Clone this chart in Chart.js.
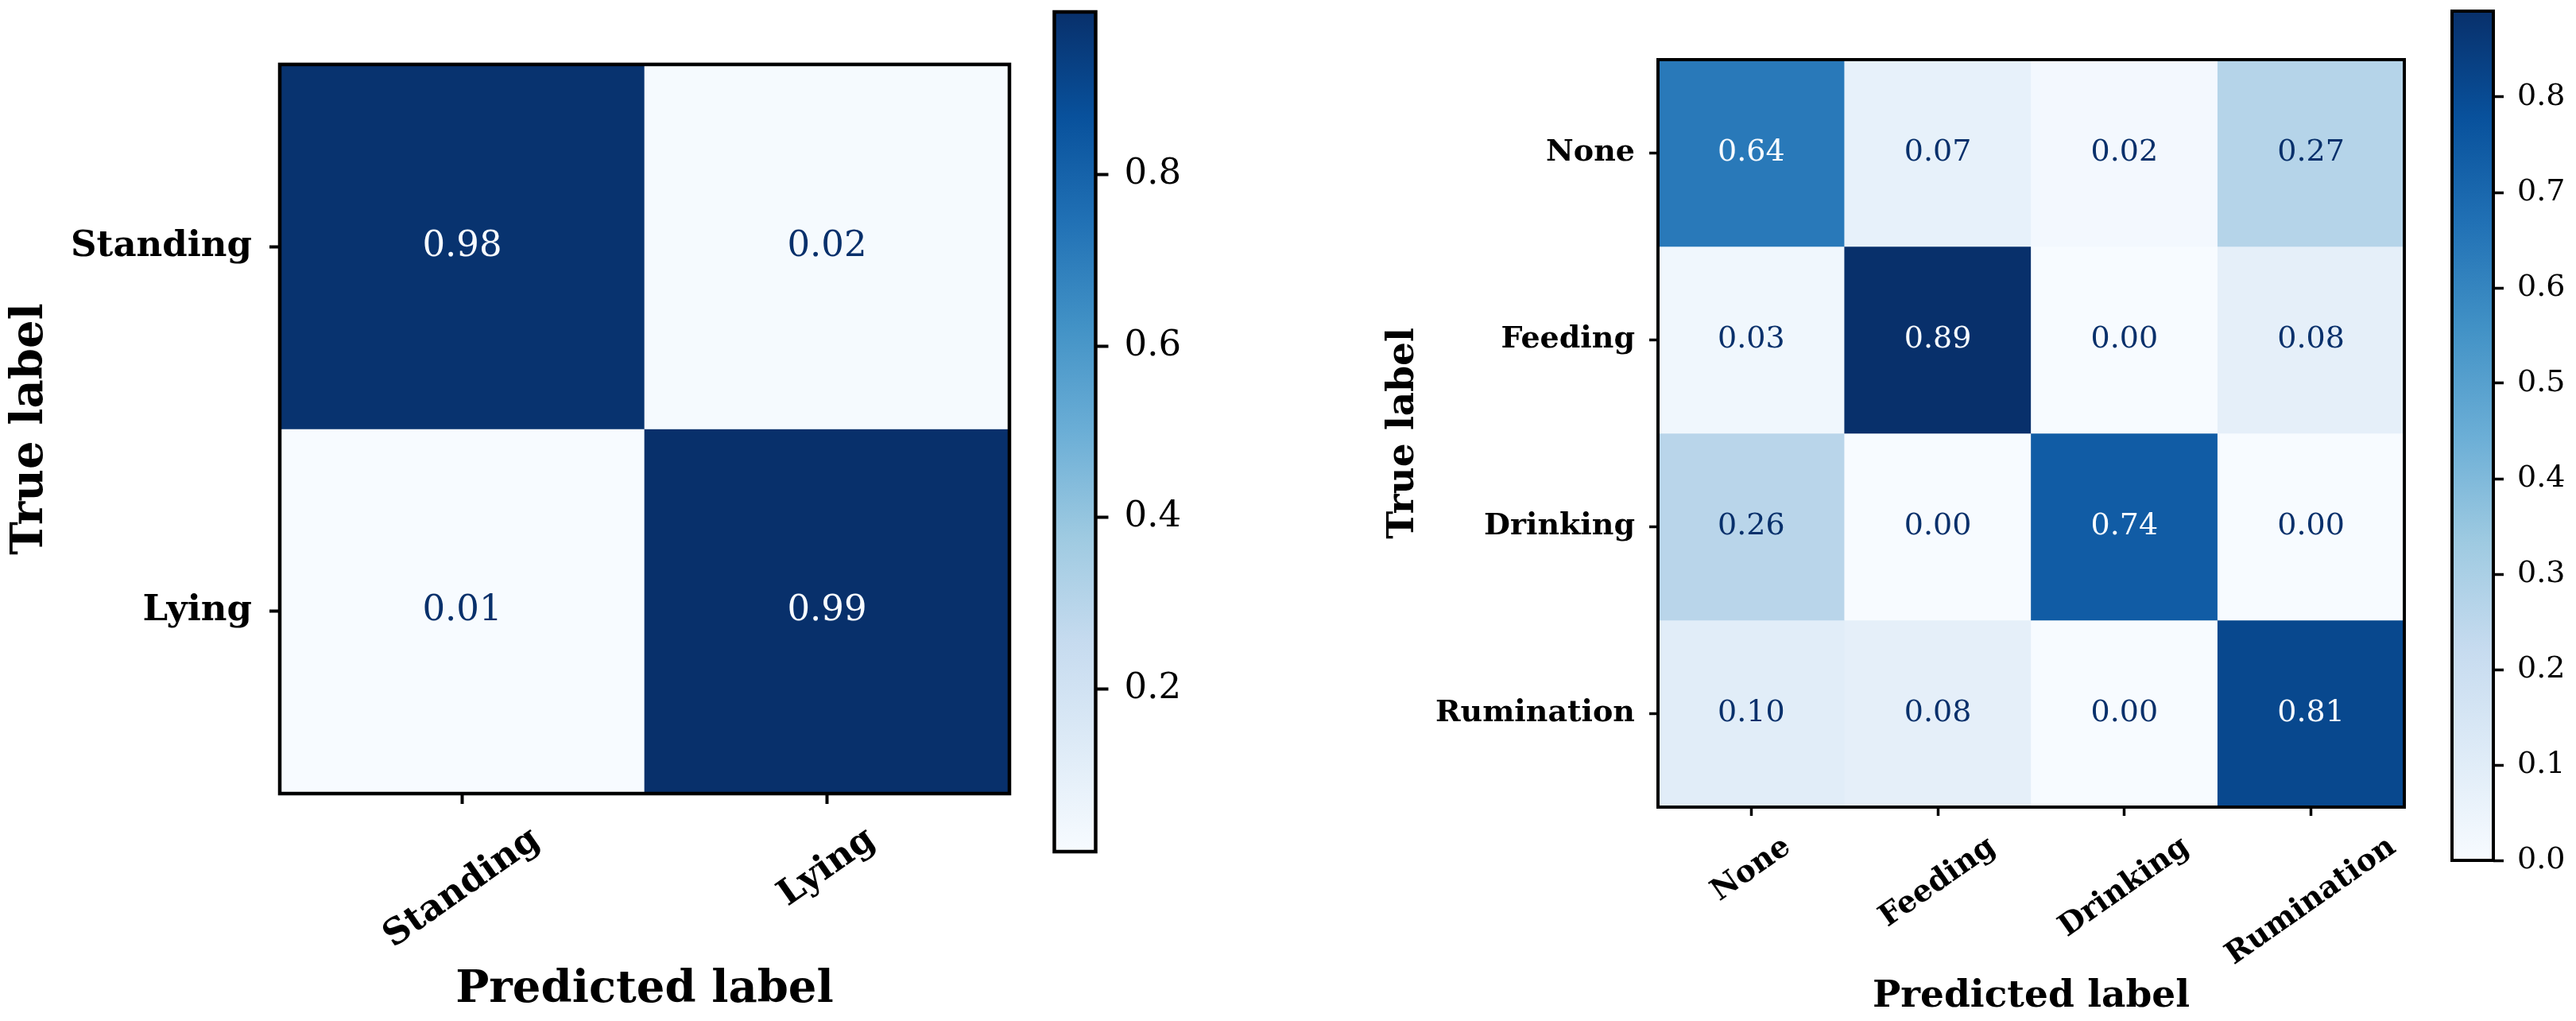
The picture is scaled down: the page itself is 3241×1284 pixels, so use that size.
<!DOCTYPE html>
<html>
<head>
<meta charset="utf-8">
<script src="https://cdn.jsdelivr.net/npm/chart.js@4.4.1/dist/chart.umd.min.js"></script>
<style>
  html, body { margin: 0; padding: 0; background: #ffffff; }
  #page { position: relative; width: 3241px; height: 1284px; overflow: hidden; background: #ffffff; }
  #page canvas { position: absolute; top: 0; }
</style>
</head>
<body>
<div id="page">
  <canvas id="heatL" width="1300" height="1284" style="left:0px;width:1300px;height:1284px"></canvas>
  <canvas id="cbarL" width="270" height="1284" style="left:1290px;width:270px;height:1284px"></canvas>
  <canvas id="heatR" width="1360" height="1284" style="left:1700px;width:1360px;height:1284px"></canvas>
  <canvas id="cbarR" width="181" height="1284" style="left:3060px;width:181px;height:1284px"></canvas>
</div>
<script>
// ---------------- data ----------------
const postureClasses = ['Standing', 'Lying'];
const postureStanding = [0.98, 0.02];
const postureLying = [0.01, 0.99];
const postureColorbarTicks = [0.2, 0.4, 0.6, 0.8];

const behaviourClasses = ['None', 'Feeding', 'Drinking', 'Rumination'];
const behaviourNone = [0.64, 0.07, 0.02, 0.27];
const behaviourFeeding = [0.03, 0.89, 0.00, 0.08];
const behaviourDrinking = [0.26, 0.00, 0.74, 0.00];
const behaviourRumination = [0.10, 0.08, 0.00, 0.81];
const behaviourColorbarTicks = [0.0, 0.1, 0.2, 0.3, 0.4, 0.5, 0.6, 0.7, 0.8];

const xAxisTitle = 'Predicted label';
const yAxisTitle = 'True label';

// ---------------- style ----------------
const FONT = 'DejaVu Serif';
const BLUES = ['#f7fbff', '#deebf7', '#c6dbef', '#9ecae1', '#6baed6', '#4292c6', '#2171b5', '#08519c', '#08306b'];

function hexToRgb(h) {
  return [parseInt(h.slice(1, 3), 16), parseInt(h.slice(3, 5), 16), parseInt(h.slice(5, 7), 16)];
}
function blues(t) {
  t = Math.max(0, Math.min(1, t));
  const s = t * (BLUES.length - 1);
  const i = Math.min(BLUES.length - 2, Math.floor(s));
  const f = s - i;
  const a = hexToRgb(BLUES[i]), b = hexToRgb(BLUES[i + 1]);
  const c = a.map((v, k) => Math.round(v + (b[k] - v) * f));
  return 'rgb(' + c.join(',') + ')';
}

// ---------------- plugins ----------------
const framePlugin = {
  id: 'frame',
  afterDatasetsDraw(chart, args, opts) {
    const a = chart.chartArea, ctx = chart.ctx;
    ctx.save();
    ctx.strokeStyle = '#000000';
    ctx.lineWidth = opts.width || 4;
    ctx.strokeRect(a.left, a.top, a.right - a.left, a.bottom - a.top);
    ctx.restore();
  }
};

const cellTextPlugin = {
  id: 'cellText',
  afterDatasetsDraw(chart, args, opts) {
    const ctx = chart.ctx;
    ctx.save();
    ctx.font = opts.size + 'px "' + FONT + '"';
    ctx.textAlign = 'center';
    ctx.textBaseline = 'middle';
    chart.data.datasets.forEach((ds, r) => {
      chart.getDatasetMeta(r).data.forEach((bar, c) => {
        const v = ds.values[c];
        ctx.fillStyle = v >= opts.thresh ? BLUES[0] : BLUES[BLUES.length - 1];
        ctx.fillText(v.toFixed(2), bar.x, (bar.y + bar.base) / 2);
      });
    });
    ctx.restore();
  }
};

const xLabelsPlugin = {
  id: 'xLabels',
  afterDraw(chart, args, opts) {
    const xs = chart.scales.x, ctx = chart.ctx;
    const th = opts.angle * Math.PI / 180;
    ctx.save();
    ctx.font = 'bold ' + opts.size + 'px "' + FONT + '"';
    ctx.fillStyle = '#000000';
    ctx.textAlign = 'center';
    ctx.textBaseline = 'middle';
    xs.getLabels().forEach((lab, i) => {
      const px = xs.getPixelForTick(i);
      const L = ctx.measureText(lab).width;
      const h = opts.size;
      const bboxH = L * Math.sin(th) + h * Math.cos(th);
      const cy = chart.chartArea.bottom + opts.offset + bboxH / 2;
      ctx.save();
      ctx.translate(px, cy);
      ctx.rotate(-th);
      ctx.fillText(lab, 0, 0);
      ctx.restore();
    });
    ctx.restore();
  }
};

function noEdgePadding(s) {
  s.paddingTop = 0; s.paddingBottom = 0; s.paddingLeft = 0; s.paddingRight = 0;
}

// ---------------- builders ----------------
function heatmap(id, classes, rows, g) {
  const all = rows.flat();
  const vmin = Math.min(...all), vmax = Math.max(...all);
  const norm = v => (v - vmin) / (vmax - vmin);
  const datasets = rows.map((row, r) => ({
    label: classes[r],
    data: row.map(() => 1),
    values: row,
    backgroundColor: row.map(v => blues(norm(v))),
    borderWidth: 0,
    barPercentage: 1,
    categoryPercentage: 1
  }));
  const titleFont = { family: FONT, size: g.titleSize, weight: 'bold', lineHeight: 1 };
  const tickGrid = {
    display: true, offset: false, drawOnChartArea: false, drawTicks: true,
    tickLength: g.tickLen, tickWidth: g.tickW, tickColor: '#000000', color: '#000000'
  };
  return new Chart(document.getElementById(id), {
    type: 'bar',
    data: { labels: classes, datasets },
    plugins: [framePlugin, cellTextPlugin, xLabelsPlugin],
    options: {
      responsive: false, animation: false, devicePixelRatio: 1,
      layout: { padding: { left: 0, top: g.top, right: g.padRight, bottom: 0 } },
      plugins: {
        legend: { display: false }, tooltip: { enabled: false },
        frame: { width: g.frameW },
        cellText: { size: g.valueSize, thresh: (vmin + vmax) / 2 },
        xLabels: { size: g.tickSize, angle: 35, offset: g.xLabelOffset }
      },
      scales: {
        x: {
          type: 'category', stacked: true, offset: true,
          grid: tickGrid, border: { display: false },
          ticks: { display: false },
          title: { display: true, text: xAxisTitle, font: titleFont, color: '#000000', padding: { top: 0, bottom: g.xTitlePad } },
          afterFit(s) { s.height = g.xAxisH; noEdgePadding(s); }
        },
        y: {
          type: 'linear', stacked: true, min: 0, max: classes.length, reverse: true,
          grid: tickGrid, border: { display: false },
          ticks: {
            autoSkip: false, color: '#000000', padding: g.tickPad,
            font: { family: FONT, size: g.tickSize, weight: 'bold' },
            callback: v => classes[Math.floor(v)]
          },
          afterBuildTicks(s) { s.ticks = classes.map((_, i) => ({ value: i + 0.5 })); },
          title: { display: true, text: yAxisTitle, font: titleFont, color: '#000000', padding: { top: g.yTitlePad, bottom: 0 } },
          afterFit(s) { s.width = g.yAxisW; noEdgePadding(s); }
        }
      }
    }
  });
}

function colorbar(id, rows, tickVals, g) {
  const all = rows.flat();
  const vmin = Math.min(...all), vmax = Math.max(...all);
  return new Chart(document.getElementById(id), {
    type: 'bar',
    data: {
      labels: [''],
      datasets: [{
        data: [[vmin, vmax]],
        backgroundColor(c) {
          const ch = c.chart;
          if (!ch.chartArea || !ch.scales.y) return BLUES[4];
          const ys = ch.scales.y;
          const grad = ch.ctx.createLinearGradient(0, ys.getPixelForValue(vmin), 0, ys.getPixelForValue(vmax));
          BLUES.forEach((col, k) => grad.addColorStop(k / (BLUES.length - 1), col));
          return grad;
        },
        borderWidth: 0, barPercentage: 1, categoryPercentage: 1
      }]
    },
    plugins: [framePlugin],
    options: {
      responsive: false, animation: false, devicePixelRatio: 1,
      layout: { padding: { left: g.padLeft, top: g.top, right: 0, bottom: g.padBottom } },
      plugins: { legend: { display: false }, tooltip: { enabled: false }, frame: { width: g.frameW } },
      scales: {
        x: { display: false, offset: true },
        y: {
          type: 'linear', position: 'right', min: vmin, max: vmax,
          grid: { drawOnChartArea: false, drawTicks: true, tickLength: g.tickLen, tickWidth: g.tickW, tickColor: '#000000' },
          border: { display: false },
          ticks: { color: '#000000', padding: g.tickPad, font: { family: FONT, size: g.tickSize }, callback: v => v.toFixed(1) },
          afterBuildTicks(s) { s.ticks = tickVals.map(v => ({ value: v })); },
          afterFit(s) { s.width = g.axisW; noEdgePadding(s); }
        }
      }
    }
  });
}

// ---------------- charts ----------------
const postureRows = [postureStanding, postureLying];
const behaviourRows = [behaviourNone, behaviourFeeding, behaviourDrinking, behaviourRumination];

heatmap('heatL', postureClasses, postureRows, {
  top: 81, padRight: 30, yAxisW: 352, xAxisH: 286,
  tickLen: 13, tickW: 4, tickPad: 22, tickSize: 45, titleSize: 56,
  yTitlePad: 10.6, xTitlePad: 10.4, valueSize: 45, frameW: 4.5, xLabelOffset: 35.5
});
colorbar('cbarL', postureRows, postureColorbarTicks, {
  padLeft: 36.5, top: 15, padBottom: 213, axisW: 181.5,
  tickLen: 16, tickW: 4, tickPad: 20, tickSize: 45, frameW: 4.5
});
heatmap('heatR', behaviourClasses, behaviourRows, {
  top: 75, padRight: 35, yAxisW: 386, xAxisH: 269,
  tickLen: 11, tickW: 3.5, tickPad: 18, tickSize: 38, titleSize: 47,
  yTitlePad: 42.2, xTitlePad: 6.8, valueSize: 38, frameW: 4, xLabelOffset: 31
});
colorbar('cbarR', behaviourRows, behaviourColorbarTicks, {
  padLeft: 25, top: 14, padBottom: 202, axisW: 104,
  tickLen: 13, tickW: 3.5, tickPad: 17, tickSize: 38, frameW: 4
});
</script>
</body>
</html>
